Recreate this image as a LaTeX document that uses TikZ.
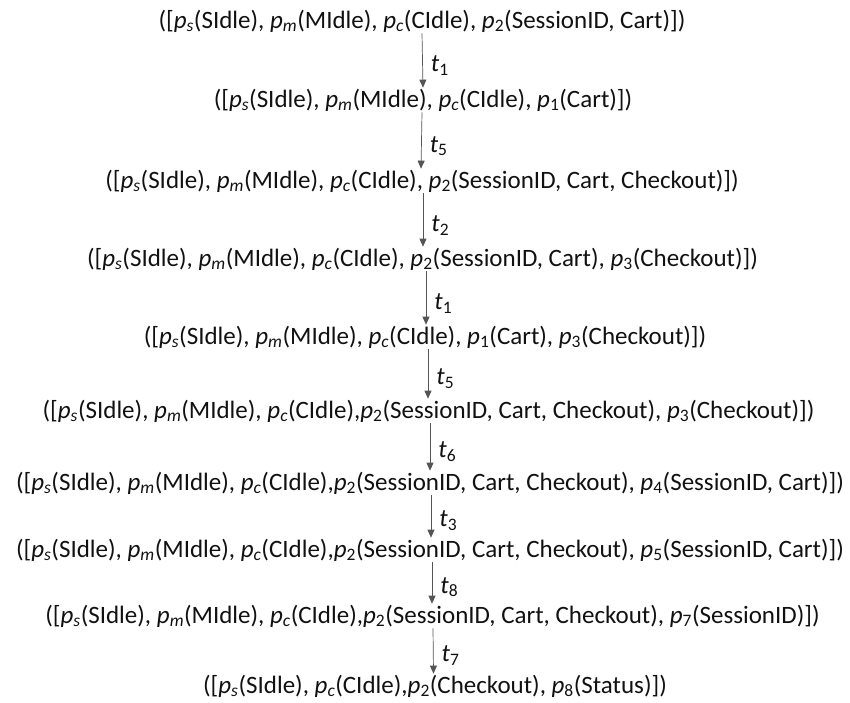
\documentclass[tikz,border=0pt]{standalone}
\usepackage{fontspec}
\setmainfont{Carlito}
\usetikzlibrary{arrows.meta,positioning}
\definecolor{mkink}{HTML}{111111}
\definecolor{mkgray}{HTML}{555555}
\newcommand{\pl}[1]{\textit{p}\textsubscript{#1}}
\newcommand{\tr}[1]{\textit{t}\textsubscript{#1}}
\tikzset{
  marking/.style={inner sep=1pt,text=mkink,font=\fontsize{25}{28}\selectfont},
  fire/.style={-{Triangle[length=8pt,width=7pt]},draw=mkgray,line width=0.7pt},
  firel/.style={right,pos=0.6,inner sep=8pt,text=mkink,font=\fontsize{25}{28}\selectfont},
}

\begin{document}
\begin{tikzpicture}[x=1pt,y=-1pt]
  \useasboundingbox (0,0) rectangle (850,702);
  \node[marking] (m1) at (422,21) {([\pl{\textit{s}}(SIdle), \pl{\textit{m}}(MIdle), \pl{\textit{c}}(CIdle), \pl{2}(SessionID, Cart)])};
  \node[marking] (m2) at (423,100) {([\pl{\textit{s}}(SIdle), \pl{\textit{m}}(MIdle), \pl{\textit{c}}(CIdle), \pl{1}(Cart)])};
  \node[marking] (m3) at (422,181) {([\pl{\textit{s}}(SIdle), \pl{\textit{m}}(MIdle), \pl{\textit{c}}(CIdle), \pl{2}(SessionID, Cart, Checkout)])};
  \node[marking] (m4) at (422.5,259) {([\pl{\textit{s}}(SIdle), \pl{\textit{m}}(MIdle), \pl{\textit{c}}(CIdle), \pl{2}(SessionID, Cart), \pl{3}(Checkout)])};
  \node[marking] (m5) at (425,337) {([\pl{\textit{s}}(SIdle), \pl{\textit{m}}(MIdle), \pl{\textit{c}}(CIdle), \pl{1}(Cart), \pl{3}(Checkout)])};
  \node[marking] (m6) at (428.5,411) {([\pl{\textit{s}}(SIdle), \pl{\textit{m}}(MIdle), \pl{\textit{c}}(CIdle),\pl{2}(SessionID, Cart, Checkout), \pl{3}(Checkout)])};
  \node[marking] (m7) at (430,483) {([\pl{\textit{s}}(SIdle), \pl{\textit{m}}(MIdle), \pl{\textit{c}}(CIdle),\pl{2}(SessionID, Cart, Checkout), \pl{4}(SessionID, Cart)])};
  \node[marking] (m8) at (430,550) {([\pl{\textit{s}}(SIdle), \pl{\textit{m}}(MIdle), \pl{\textit{c}}(CIdle),\pl{2}(SessionID, Cart, Checkout), \pl{5}(SessionID, Cart)])};
  \node[marking] (m9) at (432.5,616) {([\pl{\textit{s}}(SIdle), \pl{\textit{m}}(MIdle), \pl{\textit{c}}(CIdle),\pl{2}(SessionID, Cart, Checkout), \pl{7}(SessionID)])};
  \node[marking] (m10) at (435,686) {([\pl{\textit{s}}(SIdle), \pl{\textit{c}}(CIdle),\pl{2}(Checkout), \pl{8}(Status)])};
  % firing sequence
  \draw[fire] (m1.south) -- (m2.north) node[firel]{\tr{1}};
  \draw[fire] ([xshift=-1pt]m2.south) -- ([xshift=-1pt]m3.north) node[firel]{\tr{5}};
  \draw[fire] ([xshift=1pt]m3.south) -- ([xshift=0.5pt]m4.north) node[firel]{\tr{2}};
  \draw[fire] ([xshift=3.5pt]m4.south) -- ([xshift=1pt]m5.north) node[firel]{\tr{1}};
  \draw[fire] ([xshift=3pt]m5.south) -- ([xshift=-0.5pt]m6.north) node[firel]{\tr{5}};
  \draw[fire] ([xshift=1.5pt]m6.south) -- (m7.north) node[firel]{\tr{6}};
  \draw[fire] ([xshift=1pt]m7.south) -- ([xshift=1pt]m8.north) node[firel]{\tr{3}};
  \draw[fire] ([xshift=2pt]m8.south) -- ([xshift=-0.5pt]m9.north) node[firel]{\tr{8}};
  \draw[fire] ([xshift=0.5pt]m9.south) -- ([xshift=-1.5pt]m10.north) node[firel]{\tr{7}};
\end{tikzpicture}
\end{document}
